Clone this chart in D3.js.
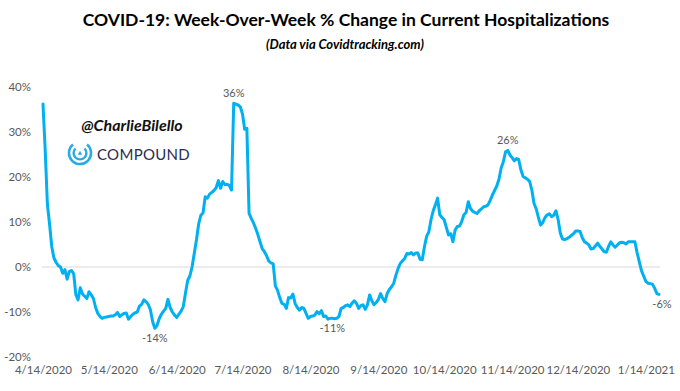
<!DOCTYPE html>
<html>
<head>
<meta charset="utf-8">
<script src="https://cdn.jsdelivr.net/npm/d3@7"></script>
<style>
  html, body { margin: 0; padding: 0; background: #fff; }
  svg { display: block; }
</style>
</head>
<body>
<div id="chart"></div>
<script>
// ---------- DATA ----------
const startDate = "2020-04-14";
// weekly % change in current hospitalizations, one value per day from startDate
const values = [
  36.2, 26, 14, 9.5, 4.5, 2, 1.0, 0.3, 0.0, -1.4,
  -0.6, -2.7, -1.0, -0.8, -1.5, -6.2, -7.3, -4.6, -6, -6.5,
  -7, -5.5, -6.2, -7, -9.0, -10.3, -11.0, -11.4, -11.2, -11.1,
  -11.0, -10.9, -10.9, -10.6, -10.1, -11, -10.6, -10.3, -10.2, -11.6,
  -11, -10.5, -10.2, -10.0, -8.7, -8.3, -7.3, -7.7, -8.3, -9.5,
  -12.1, -13.6, -13.0, -11.5, -10.5, -9.8, -9.2, -7.2, -9.0, -10.0,
  -10.7, -11.2, -10.5, -9.8, -8.8, -5.8, -3.0, -2, 0, 3,
  6, 9.5, 11.5, 12, 15.6, 15.3, 16.2, 16.6, 17, 17.6,
  19.2, 17.5, 19, 18.3, 18.4, 18.1, 17.1, 36.4, 36.2, 36,
  35.6, 34, 30.6, 30.8, 11.9, 10.8, 9.8, 8.6, 7.2, 5.6,
  4.1, 3.4, 2.5, 1.3, 0.9, 0.7, -4.2, -5.2, -6.8, -8.1,
  -8.3, -9.2, -6.8, -6.9, -6.0, -8.1, -9.0, -9.6, -9.0, -9.2,
  -10.3, -11.4, -11.0, -10.9, -10.7, -9.9, -10.4, -9.7, -11, -10.9,
  -11.6, -11.4, -11.4, -11.5, -11.4, -11.0, -9.2, -9.0, -8.6, -8.4,
  -8.8, -8.0, -7.5, -8.1, -9.2, -8.6, -8.4, -9.4, -8.4, -6.2,
  -7.5, -8.4, -7.9, -7.2, -5.9, -7, -7.7, -5.9, -5, -4.4,
  -3.6, -1.8, -0.3, 0.8, 1.4, 1.9, 3.0, 2.9, 3.2, 2.7,
  3.1, 3.1, 1.7, 1.6, 4.5, 6.8, 7.8, 10.5, 12.5, 13.8,
  15.3, 11.6, 11, 10.5, 8.8, 7.1, 7.4, 5.6, 8.2, 9,
  9.1, 10.1, 11.6, 12.1, 14.5, 13, 12.4, 12.1, 11.9, 12.5,
  12.9, 13.4, 13.5, 13.8, 14.8, 16, 17, 18, 19.5, 22,
  23.4, 25.6, 25.9, 24.9, 24.3, 23.6, 24.1, 23.9, 21.6, 20.1,
  19.8, 19.5, 19.0, 17.1, 14.1, 12.9, 11, 9.3, 9.9, 11,
  11.6, 11.8, 11.2, 11.5, 12.5, 10.5, 7.5, 6.2, 6.1, 6.3,
  6.6, 7, 7.4, 8, 8.0, 7.9, 6.5, 5.6, 5.3, 4.9,
  4.0, 4.1, 4.7, 5.3, 4.6, 4.0, 3.4, 3.3, 4.6, 5.6,
  4.9, 4.4, 4.9, 5.4, 5.5, 5.4, 5.1, 5.6, 5.6, 5.6,
  5.6, 3.2, 1.2, -0.8, -2.0, -3.2, -3.6, -3.7, -3.8, -4.7,
  -5.9, -6.1
];
const xTickLabels = ["4/14/2020","5/14/2020","6/14/2020","7/14/2020","8/14/2020",
                     "9/14/2020","10/14/2020","11/14/2020","12/14/2020","1/14/2021"];
const yTicks = [-20, -10, 0, 10, 20, 30, 40];
// labelled points: date and whether label sits above or below
const labelDates = ["2020-06-04", "2020-07-10", "2020-08-24", "2020-11-12", "2021-01-20"];
const labelSides = ["below", "above", "below", "above", "below"];

const titleText = "COVID-19: Week-Over-Week % Change in Current Hospitalizations";
const subtitleText = "(Data via Covidtracking.com)";
const handleText = "@CharlieBilello";
const brandText = "COMPOUND";

// ---------- BUILD ----------
const parse = d3.timeParse("%Y-%m-%d");
const parseTick = d3.timeParse("%m/%d/%Y");
const t0 = parse(startDate);
const data = values.map((v, i) => ({ date: d3.timeDay.offset(t0, i), value: v }));

const W = 680, H = 391;
const svg = d3.select("#chart").append("svg").attr("width", W).attr("height", H);

const x = d3.scaleTime()
  .domain([t0, d3.timeDay.offset(t0, values.length - 1)])
  .range([43, 659]);
const y = d3.scaleLinear().domain([-20, 40]).range([357, 87]);

const FONT = "Lato, 'Open Sans', sans-serif";

// title
svg.append("text")
  .attr("x", 346).attr("y", 26)
  .attr("text-anchor", "middle")
  .style("font-family", FONT).style("font-weight", "bold").style("font-size", "17.5px")
  .attr("fill", "#000")
  .text(titleText);
svg.append("text")
  .attr("x", 345).attr("y", 49)
  .attr("text-anchor", "middle")
  .style("font-family", FONT).style("font-weight", "bold").style("font-style", "italic")
  .style("font-size", "13px")
  .attr("fill", "#000")
  .text(subtitleText);

// y axis labels
const yAxis = d3.axisLeft(y).tickValues(yTicks).tickSize(0).tickPadding(0)
  .tickFormat(d => d + "%");
const gy = svg.append("g").attr("transform", "translate(31,0)").call(yAxis);
gy.select(".domain").remove();
gy.selectAll("text").style("font-family", FONT).style("font-size", "11.5px").attr("fill", "#595959");

// x axis labels
const tickDates = xTickLabels.map(parseTick);
const xAxis = d3.axisBottom(x).tickValues(tickDates).tickSize(0).tickPadding(0)
  .tickFormat((d, i) => xTickLabels[i]);
const gx = svg.append("g").attr("transform", "translate(0,366)").call(xAxis);
gx.select(".domain").remove();
gx.selectAll("text").style("font-family", FONT).style("font-size", "11.5px").attr("fill", "#595959");

// zero line
svg.append("line")
  .attr("x1", x.range()[0] - 1).attr("x2", x.range()[1] + 1)
  .attr("y1", y(0)).attr("y2", y(0))
  .attr("stroke", "#d9d9d9").attr("stroke-width", 1);

// series line
const line = d3.line().x(d => x(d.date)).y(d => y(d.value));
svg.append("path")
  .datum(data)
  .attr("fill", "none")
  .attr("stroke", "#00b0f0")
  .attr("stroke-width", 3)
  .attr("stroke-linejoin", "round")
  .attr("stroke-linecap", "round")
  .attr("d", line);

// data labels
labelDates.forEach((ds, i) => {
  const dt = parse(ds);
  const pt = data.find(d => +d.date === +dt);
  if (!pt) return;
  const above = labelSides[i] === "above";
  svg.append("text")
    .attr("x", x(pt.date) + (i === 4 ? 3 : 0))
    .attr("y", y(pt.value) + (above ? -6 : 14))
    .attr("text-anchor", "middle")
    .style("font-family", FONT).style("font-size", "11px")
    .attr("fill", "#595959")
    .text(Math.round(pt.value) + "%");
});

// watermark: handle
svg.append("text")
  .attr("x", 132).attr("y", 131)
  .attr("text-anchor", "middle")
  .style("font-family", FONT).style("font-weight", "bold").style("font-style", "italic")
  .style("font-size", "16px")
  .attr("fill", "#111")
  .text(handleText);

// watermark: logo
const logo = svg.append("g").attr("transform", "translate(80,153)");
const arc = d3.arc();
logo.append("path")
  .attr("d", arc({ innerRadius: 9.8, outerRadius: 12.3, startAngle: Math.PI * 0.22, endAngle: Math.PI * 1.78 }))
  .attr("fill", "#29abe2");
logo.append("path")
  .attr("d", arc({ innerRadius: 5.2, outerRadius: 7.6, startAngle: Math.PI * 0.25, endAngle: Math.PI * 1.75 }))
  .attr("fill", "#29abe2");
logo.append("path")
  .attr("d", d3.symbol(d3.symbolTriangle, 9)())
  .attr("transform", "translate(0,0.5)")
  .attr("fill", "#29abe2");
svg.append("text")
  .attr("x", 97).attr("y", 159.5)
  .style("font-family", FONT).style("font-size", "15px")
  .style("letter-spacing", "0.3px")
  .attr("fill", "#2a2d4e")
  .text(brandText);
</script>
</body>
</html>
